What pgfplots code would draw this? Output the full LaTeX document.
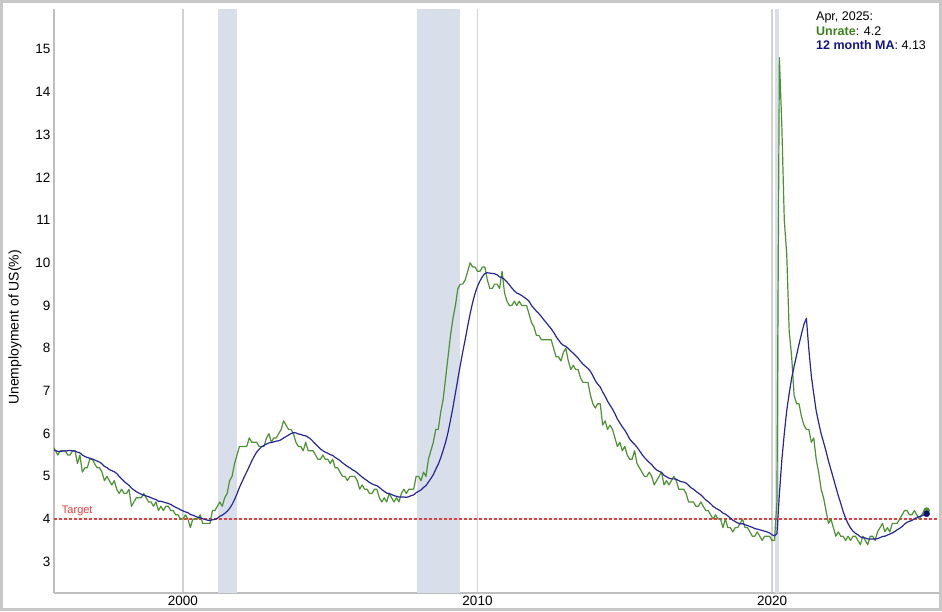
\documentclass[border=0pt]{standalone}
\usepackage{pgfplots}
\pgfplotsset{compat=1.18}
\usepackage{pgfplotstable}
\usepackage{fontspec}
\setmainfont{Liberation Sans}
\definecolor{ugreen}{RGB}{76,145,50}
\definecolor{ugreentxt}{RGB}{60,130,30}
\definecolor{mablue}{RGB}{38,38,152}
\definecolor{matxt}{RGB}{20,20,130}
\definecolor{madot}{RGB}{15,15,110}
\definecolor{recess}{RGB}{216,223,234}
\definecolor{gridg}{RGB}{210,210,210}
\definecolor{axisg}{RGB}{190,190,190}
\definecolor{frameg}{RGB}{200,200,200}
\definecolor{targetred}{RGB}{235,60,60}

\pgfplotstableread{
yr m u ma
1995 8 5.7 5.633
1995 9 5.6 5.608
1995 10 5.5 5.583
1995 11 5.6 5.583
1995 12 5.6 5.592
1996 1 5.6 5.592
1996 2 5.5 5.600
1996 3 5.5 5.608
1996 4 5.6 5.592
1996 5 5.6 5.592
1996 6 5.3 5.567
1996 7 5.5 5.550
1996 8 5.1 5.500
1996 9 5.2 5.467
1996 10 5.2 5.442
1996 11 5.4 5.425
1996 12 5.4 5.408
1997 1 5.3 5.383
1997 2 5.2 5.358
1997 3 5.2 5.333
1997 4 5.1 5.292
1997 5 4.9 5.233
1997 6 5.0 5.208
1997 7 4.9 5.158
1997 8 4.8 5.133
1997 9 4.9 5.108
1997 10 4.7 5.067
1997 11 4.6 5.000
1997 12 4.7 4.942
1998 1 4.6 4.883
1998 2 4.6 4.833
1998 3 4.7 4.792
1998 4 4.3 4.725
1998 5 4.4 4.683
1998 6 4.5 4.642
1998 7 4.5 4.608
1998 8 4.5 4.583
1998 9 4.6 4.558
1998 10 4.5 4.542
1998 11 4.4 4.525
1998 12 4.4 4.500
1999 1 4.3 4.475
1999 2 4.4 4.458
1999 3 4.2 4.417
1999 4 4.3 4.417
1999 5 4.2 4.400
1999 6 4.3 4.383
1999 7 4.3 4.367
1999 8 4.2 4.342
1999 9 4.2 4.308
1999 10 4.1 4.275
1999 11 4.1 4.250
1999 12 4.0 4.217
2000 1 4.0 4.192
2000 2 4.1 4.167
2000 3 4.0 4.150
2000 4 3.8 4.108
2000 5 4.0 4.092
2000 6 4.0 4.067
2000 7 4.0 4.042
2000 8 4.1 4.033
2000 9 3.9 4.008
2000 10 3.9 3.992
2000 11 3.9 3.975
2000 12 3.9 3.967
2001 1 4.2 3.983
2001 2 4.2 3.992
2001 3 4.3 4.017
2001 4 4.4 4.067
2001 5 4.3 4.092
2001 6 4.5 4.133
2001 7 4.6 4.183
2001 8 4.9 4.250
2001 9 5.0 4.342
2001 10 5.3 4.458
2001 11 5.5 4.592
2001 12 5.7 4.742
2002 1 5.7 4.867
2002 2 5.7 4.992
2002 3 5.7 5.108
2002 4 5.9 5.233
2002 5 5.8 5.358
2002 6 5.8 5.467
2002 7 5.8 5.567
2002 8 5.7 5.633
2002 9 5.7 5.692
2002 10 5.7 5.725
2002 11 5.9 5.758
2002 12 6.0 5.783
2003 1 5.8 5.792
2003 2 5.9 5.808
2003 3 5.9 5.825
2003 4 6.0 5.833
2003 5 6.1 5.858
2003 6 6.3 5.900
2003 7 6.2 5.933
2003 8 6.1 5.967
2003 9 6.1 6.000
2003 10 6.0 6.025
2003 11 5.8 6.017
2003 12 5.7 5.992
2004 1 5.7 5.983
2004 2 5.6 5.958
2004 3 5.8 5.950
2004 4 5.6 5.917
2004 5 5.6 5.875
2004 6 5.6 5.817
2004 7 5.5 5.758
2004 8 5.4 5.700
2004 9 5.4 5.642
2004 10 5.5 5.600
2004 11 5.4 5.567
2004 12 5.4 5.542
2005 1 5.3 5.508
2005 2 5.4 5.492
2005 3 5.2 5.442
2005 4 5.2 5.408
2005 5 5.1 5.367
2005 6 5.0 5.317
2005 7 5.0 5.275
2005 8 4.9 5.233
2005 9 5.0 5.200
2005 10 5.0 5.158
2005 11 5.0 5.125
2005 12 4.9 5.083
2006 1 4.7 5.033
2006 2 4.8 4.983
2006 3 4.7 4.942
2006 4 4.7 4.900
2006 5 4.6 4.858
2006 6 4.6 4.825
2006 7 4.7 4.800
2006 8 4.7 4.783
2006 9 4.5 4.742
2006 10 4.4 4.692
2006 11 4.5 4.650
2006 12 4.4 4.608
2007 1 4.6 4.600
2007 2 4.5 4.575
2007 3 4.4 4.550
2007 4 4.5 4.533
2007 5 4.4 4.517
2007 6 4.6 4.517
2007 7 4.7 4.517
2007 8 4.6 4.508
2007 9 4.7 4.525
2007 10 4.7 4.550
2007 11 4.7 4.567
2007 12 5.0 4.617
2008 1 5.0 4.650
2008 2 4.9 4.683
2008 3 5.1 4.742
2008 4 5.0 4.783
2008 5 5.4 4.867
2008 6 5.6 4.950
2008 7 5.8 5.042
2008 8 6.1 5.167
2008 9 6.1 5.283
2008 10 6.5 5.433
2008 11 6.8 5.608
2008 12 7.3 5.800
2009 1 7.8 6.033
2009 2 8.3 6.317
2009 3 8.7 6.617
2009 4 9.0 6.950
2009 5 9.4 7.283
2009 6 9.5 7.608
2009 7 9.5 7.917
2009 8 9.6 8.208
2009 9 9.8 8.517
2009 10 10.0 8.808
2009 11 9.9 9.067
2009 12 9.9 9.283
2010 1 9.8 9.450
2010 2 9.8 9.575
2010 3 9.9 9.675
2010 4 9.9 9.750
2010 5 9.6 9.767
2010 6 9.4 9.758
2010 7 9.4 9.750
2010 8 9.5 9.742
2010 9 9.5 9.717
2010 10 9.4 9.667
2010 11 9.8 9.658
2010 12 9.3 9.608
2011 1 9.1 9.550
2011 2 9.0 9.483
2011 3 9.0 9.408
2011 4 9.1 9.342
2011 5 9.0 9.292
2011 6 9.1 9.267
2011 7 9.0 9.233
2011 8 9.0 9.192
2011 9 9.0 9.150
2011 10 8.8 9.100
2011 11 8.6 9.000
2011 12 8.5 8.933
2012 1 8.3 8.867
2012 2 8.3 8.808
2012 3 8.2 8.742
2012 4 8.2 8.667
2012 5 8.2 8.600
2012 6 8.2 8.525
2012 7 8.2 8.458
2012 8 8.0 8.375
2012 9 7.8 8.275
2012 10 7.8 8.192
2012 11 7.7 8.117
2012 12 7.9 8.067
2013 1 8.0 8.042
2013 2 7.7 7.992
2013 3 7.5 7.933
2013 4 7.6 7.883
2013 5 7.5 7.825
2013 6 7.5 7.767
2013 7 7.3 7.692
2013 8 7.2 7.625
2013 9 7.2 7.575
2013 10 7.2 7.525
2013 11 6.9 7.458
2013 12 6.7 7.358
2014 1 6.6 7.242
2014 2 6.7 7.158
2014 3 6.7 7.092
2014 4 6.2 6.975
2014 5 6.3 6.875
2014 6 6.1 6.758
2014 7 6.2 6.667
2014 8 6.1 6.575
2014 9 5.9 6.467
2014 10 5.7 6.342
2014 11 5.8 6.250
2014 12 5.6 6.158
2015 1 5.7 6.083
2015 2 5.5 5.983
2015 3 5.4 5.875
2015 4 5.4 5.808
2015 5 5.6 5.750
2015 6 5.3 5.683
2015 7 5.2 5.600
2015 8 5.1 5.517
2015 9 5.0 5.442
2015 10 5.0 5.383
2015 11 5.1 5.325
2015 12 5.0 5.275
2016 1 4.8 5.200
2016 2 4.9 5.150
2016 3 5.0 5.117
2016 4 5.1 5.092
2016 5 4.8 5.025
2016 6 4.9 4.992
2016 7 4.8 4.958
2016 8 4.9 4.942
2016 9 5.0 4.942
2016 10 4.9 4.933
2016 11 4.7 4.900
2016 12 4.7 4.875
2017 1 4.7 4.867
2017 2 4.6 4.842
2017 3 4.4 4.792
2017 4 4.4 4.733
2017 5 4.4 4.700
2017 6 4.3 4.650
2017 7 4.3 4.608
2017 8 4.4 4.567
2017 9 4.3 4.508
2017 10 4.2 4.450
2017 11 4.2 4.408
2017 12 4.1 4.358
2018 1 4.0 4.300
2018 2 4.1 4.258
2018 3 4.0 4.225
2018 4 4.0 4.192
2018 5 3.8 4.142
2018 6 4.0 4.117
2018 7 3.8 4.075
2018 8 3.8 4.025
2018 9 3.7 3.975
2018 10 3.8 3.942
2018 11 3.8 3.908
2018 12 3.9 3.892
2019 1 4.0 3.892
2019 2 3.8 3.867
2019 3 3.8 3.850
2019 4 3.7 3.825
2019 5 3.6 3.808
2019 6 3.6 3.775
2019 7 3.7 3.767
2019 8 3.6 3.750
2019 9 3.5 3.733
2019 10 3.6 3.717
2019 11 3.6 3.700
2019 12 3.6 3.675
2020 1 3.5 3.633
2020 2 3.5 3.608
2020 3 4.4 3.658
2020 4 14.8 4.583
2020 5 13.2 5.383
2020 6 11.0 6.000
2020 7 10.2 6.542
2020 8 8.4 6.942
2020 9 7.8 7.300
2020 10 6.9 7.575
2020 11 6.7 7.833
2020 12 6.7 8.092
2021 1 6.4 8.333
2021 2 6.2 8.558
2021 3 6.1 8.700
2021 4 6.1 7.975
2021 5 5.8 7.358
2021 6 5.9 6.933
2021 7 5.4 6.533
2021 8 5.1 6.258
2021 9 4.7 6.000
2021 10 4.5 5.800
2021 11 4.2 5.592
2021 12 3.9 5.358
2022 1 4.0 5.158
2022 2 3.8 4.958
2022 3 3.6 4.750
2022 4 3.7 4.550
2022 5 3.6 4.367
2022 6 3.6 4.175
2022 7 3.5 4.017
2022 8 3.6 3.892
2022 9 3.5 3.792
2022 10 3.6 3.717
2022 11 3.6 3.667
2022 12 3.5 3.633
2023 1 3.4 3.583
2023 2 3.6 3.567
2023 3 3.5 3.558
2023 4 3.4 3.533
2023 5 3.6 3.533
2023 6 3.6 3.533
2023 7 3.5 3.533
2023 8 3.7 3.542
2023 9 3.8 3.567
2023 10 3.9 3.592
2023 11 3.7 3.600
2023 12 3.8 3.625
2024 1 3.7 3.650
2024 2 3.9 3.675
2024 3 3.9 3.708
2024 4 3.9 3.750
2024 5 4.0 3.783
2024 6 4.1 3.825
2024 7 4.2 3.883
2024 8 4.2 3.925
2024 9 4.1 3.950
2024 10 4.1 3.967
2024 11 4.2 4.008
2024 12 4.1 4.033
2025 1 4.0 4.058
2025 2 4.1 4.075
2025 3 4.2 4.100
2025 4 4.2 4.125
}\unrate

\begin{document}
\begin{tikzpicture}
\path[use as bounding box] (0pt,0pt) rectangle (942pt,611pt);
\draw[frameg, line width=3pt] (1.5pt,1.5pt) rectangle (940.5pt,609.5pt);
\begin{axis}[
  at={(54pt,18pt)}, anchor=south west,
  scale only axis, width=885pt, height=584pt,
  xmin=1995.62, xmax=2025.67, ymin=2.27, ymax=15.94,
  axis x line=bottom, axis y line=left,
  axis line style={draw=axisg, line width=1.3pt, -},
  xtick={2000,2010,2020}, ytick={3,4,...,15},
  major tick length=0pt, tick style={draw=none},
  xmajorgrids, major x grid style={draw=gridg, line width=1.8pt},
  /pgf/number format/assume math mode=true,
  xticklabel style={/pgf/number format/1000 sep={}, font=\fontsize{13.5}{13.5}\selectfont},
  yticklabel style={font=\fontsize{13.5}{13.5}\selectfont},
  ylabel={Unemployment of US(\%)},
  ylabel style={font=\fontsize{14}{15}\selectfont, at={(axis description cs:-0.0441,0.455)}, anchor=center},
]
\addplot[fill=recess, draw=none] coordinates {(2001.19,2.27) (2001.19,15.94) (2001.83,15.94) (2001.83,2.27)};
\addplot[fill=recess, draw=none] coordinates {(2007.95,2.27) (2007.95,15.94) (2009.42,15.94) (2009.42,2.27)};
\addplot[fill=recess, draw=none] coordinates {(2020.10,2.27) (2020.10,15.94) (2020.25,15.94) (2020.25,2.27)};
\addplot[mark=none, color=targetred, draw=targetred, dash pattern=on 3pt off 2pt, line width=1.2pt] coordinates {(1995.62,4) (2025.67,4)};
\node[text=targetred, anchor=south west, inner sep=1pt, font=\fontsize{11}{11}\selectfont] at (axis cs:1995.85,4.04) {Target};
\addplot[mark=none, draw=ugreen, line width=1.2pt, line join=round] table[x expr=\thisrow{yr}+(\thisrow{m}-1)/12, y=u] {\unrate};
\addplot[mark=none, draw=mablue, line width=1.2pt, line join=round] table[x expr=\thisrow{yr}+(\thisrow{m}-1)/12, y=ma] {\unrate};
\addplot[only marks, mark=*, mark size=3pt, mark options={draw=ugreen, fill=ugreen}] coordinates {(2025.25,4.2)};
\addplot[only marks, mark=*, mark size=3pt, mark options={draw=madot, fill=madot}] coordinates {(2025.25,4.125)};
\node[anchor=north west, align=left, inner sep=0pt, font=\fontsize{12.5}{14.5}\selectfont] at (rel axis cs:0.861,0.995)
  {Apr, 2025:\\ \textcolor{ugreentxt}{\textbf{Unrate}}: 4.2\\ \textcolor{matxt}{\textbf{12 month MA}}: 4.13};
\end{axis}
\end{tikzpicture}
\end{document}
